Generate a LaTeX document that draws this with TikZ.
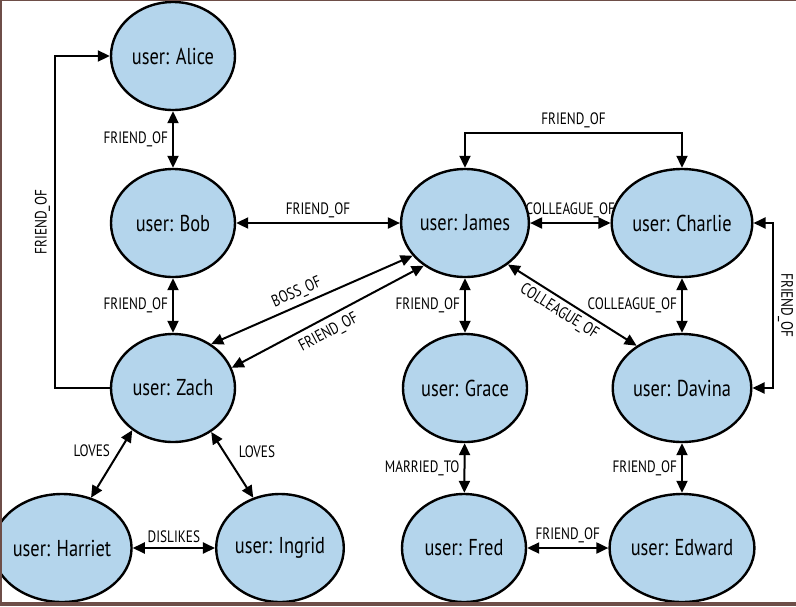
\documentclass[tikz,border=0pt]{standalone}
\usepackage{fontspec}
\setmainfont{PT Sans}[FakeStretch=0.8]
\usetikzlibrary{arrows.meta,shapes.geometric}
\definecolor{userblue}{RGB}{180,213,236}
\definecolor{scanframe}{RGB}{110,78,72}

\begin{document}
\begin{tikzpicture}[x=1pt,y=-1pt,
	user/.style={shape=ellipse,draw=black,line width=2.4pt,fill=userblue,
		minimum width=124pt,minimum height=108pt,inner sep=0pt,
		font=\fontsize{23}{26}\selectfont},
	rel/.style={line width=2pt,{Triangle[length=12pt,width=11pt]}-{Triangle[length=12pt,width=11pt]}},
	relto/.style={line width=2pt,-{Triangle[length=12pt,width=11pt]}},
	lbl/.style={font=\fontsize{16.5}{18}\selectfont,inner sep=4pt}]
			\useasboundingbox (0,0) rectangle (796,606);
			\fill[white] (0,0) rectangle (796,606);

			\node[user] (alice) at (173,56) {user: Alice};
			\node[user] (bob) at (173,223) {user: Bob};
			\node[user] (zach) at (173,388) {user: Zach};
			\node[user] (harriet) at (62,548) {user: Harriet};
			\node[user] (ingrid) at (280,548) {user: Ingrid};
			\node[user] (james) at (465,223) {user: James};
			\node[user] (grace) at (465,388) {user: Grace};
			\node[user] (fred) at (464,548) {user: Fred};
			\node[user] (charlie) at (682,223) {user: Charlie};
			\node[user] (davina) at (682,388) {user: Davina};
			\node[user] (edward) at (682,548) {user: Edward};

			\path [rel] (alice) edge node[lbl,left] {FRIEND\_OF} (bob);
			\path [rel] (bob) edge node[lbl,left] {FRIEND\_OF} (zach);
			\path [rel] (bob) edge node[lbl,above] {FRIEND\_OF} (james);
			\path [rel] (zach.49) edge node[lbl,above,sloped,pos=0.45] {BOSS\_OF} (james.212);
			\path [rel] (zach.19) edge node[lbl,below,sloped,pos=0.47,inner sep=6pt] {FRIEND\_OF} (james.226);
			\path [rel] (zach.226) edge node[lbl,left,pos=0.3,xshift=-5pt] {LOVES} (harriet.60);
			\path [rel] (zach.-49) edge node[lbl,right,pos=0.3,xshift=10pt] {LOVES} (ingrid.118);
			\path [rel] (harriet) edge node[lbl,above] {DISLIKES} (ingrid);
			\path [rel] (james) edge node[lbl,above] {COLLEAGUE\_OF} (charlie);
			\path [rel] (james) edge node[lbl,left] {FRIEND\_OF} (grace);
			\path [rel] (james.-44) edge node[lbl,below,sloped,pos=0.45] {COLLEAGUE\_OF} (davina.137);
			\path [rel] (charlie) edge node[lbl,left] {COLLEAGUE\_OF} (davina);
			\path [rel] (grace) edge node[lbl,left] {MARRIED\_TO} (fred);
			\path [rel] (davina) edge node[lbl,left] {FRIEND\_OF} (edward);
			\path [rel] (fred) edge node[lbl,above] {FRIEND\_OF} (edward);

			% elbow connectors
			\draw [relto] (zach.west) -- (55,388) |- node[lbl,pos=0.25,above,rotate=90] {FRIEND\_OF} (alice.west);
			\draw [rel] (james.north) -- (465,133) -| node[lbl,pos=0.25,above] {FRIEND\_OF} (charlie.north);
			\draw [rel] (charlie.east) -- (773,223) |- node[lbl,pos=0.25,above,rotate=-90] {FRIEND\_OF} (davina.east);

			% scan frame
			\fill[scanframe] (0,0) rectangle (2,606);
			\fill[scanframe] (0,0) rectangle (796,1);
			\fill[scanframe] (0,602) rectangle (796,606);
		\end{tikzpicture}
\end{document}
